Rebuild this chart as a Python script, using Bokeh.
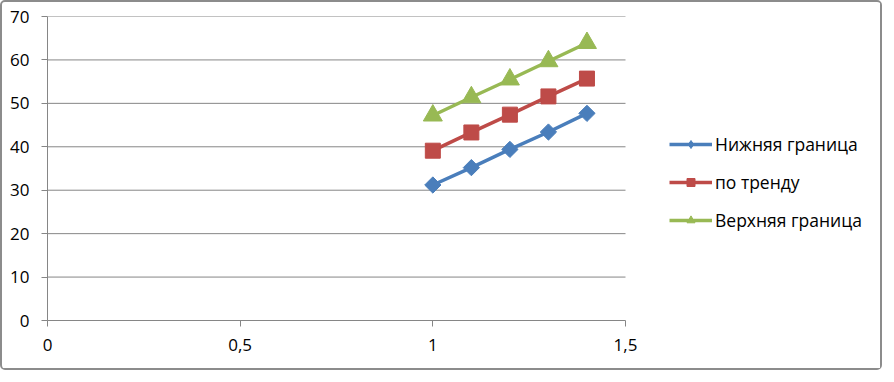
import numpy as np
from bokeh.plotting import figure
from bokeh.models import Range1d, FixedTicker, Legend, LegendItem
from bokeh.embed import file_html
from bokeh.resources import INLINE

x_vals = [1.0, 1.1, 1.2, 1.3, 1.4]
lower = [31.2, 35.2, 39.4, 43.4, 47.7]
trend = [39.1, 43.3, 47.4, 51.6, 55.7]
upper = [47.2, 51.4, 55.5, 59.7, 63.9]
names = ["Нижняя граница", "по тренду", "Верхняя граница"]
x_ticks = [0, 0.5, 1, 1.5]
x_tick_labels = ["0", "0,5", "1", "1,5"]
y_ticks = [0, 10, 20, 30, 40, 50, 60, 70]

FONT = "Open Sans"
GRID = "#868686"

# Frame extends under the legend area; axis and grid stop at 1.5.
AXIS_PX = 578
FRAME_W = 833
x_end = x_ticks[-1] * FRAME_W / AXIS_PX

p = figure(frame_width=FRAME_W, frame_height=304, output_backend="svg", toolbar_location=None,
           x_range=Range1d(0, x_end), y_range=Range1d(0, 70),
           min_border_left=45, min_border_right=0, min_border_top=14, min_border_bottom=48)
p.styles = {"border": "2px solid #8c8c8c", "border-radius": "5px"}
p.outline_line_color = None
p.xgrid.grid_line_color = None
p.ygrid.grid_line_color = None
p.segment(x0=x_ticks[0], x1=x_ticks[-1], y0=y_ticks[1:], y1=y_ticks[1:],
          line_color=GRID, line_width=1)

for ax in (p.xaxis[0], p.yaxis[0]):
    ax.axis_line_color = GRID
    ax.major_tick_line_color = GRID
    ax.minor_tick_line_color = None
    ax.major_tick_in = 0
    ax.major_tick_out = 6
    ax.major_label_text_font = FONT
    ax.major_label_text_font_size = "17px"
    ax.major_label_text_color = "#000000"

p.xaxis.ticker = FixedTicker(ticks=x_ticks)
p.xaxis.bounds = (x_ticks[0], x_ticks[-1])
p.xaxis.major_label_overrides = {t: l for t, l in zip(x_ticks, x_tick_labels)}
p.xaxis.major_label_standoff = 12
p.yaxis.ticker = FixedTicker(ticks=y_ticks)
p.yaxis.major_label_standoff = 12

colors = ["#4A7EBB", "#BE4B48", "#98B954"]
series = [lower, trend, upper]
items = []
for i, (ys, c, name) in enumerate(zip(series, colors, names)):
    r_line = p.line(x_vals, ys, line_color=c, line_width=3.5)
    if i == 0:
        p.scatter(x_vals, ys, marker="square", size=11.5, angle=np.pi / 4,
                  fill_color=c, line_color=c)
        # legend-only diamond (not drawn in the plot area)
        r_leg = p.scatter(x=[np.nan], y=[np.nan], marker="diamond", size=15,
                          fill_color=c, line_color=c)
    elif i == 1:
        r_leg = p.scatter(x_vals, ys, marker="square", size=15, fill_color=c, line_color=c)
    else:
        r_leg = p.scatter(x_vals, ys, marker="triangle", size=19, fill_color=c, line_color=c)
    items.append(LegendItem(label=name, renderers=[r_line, r_leg]))

legend = Legend(items=items, location=(622, 88), orientation="vertical",
                glyph_width=43, glyph_height=20, label_height=20, spacing=14,
                label_standoff=3, padding=0, margin=0,
                border_line_color=None, background_fill_alpha=0,
                label_text_font=FONT, label_text_font_size="17.5px",
                label_text_color="#000000")
p.add_layout(legend, "center")

open("out.html", "w").write(file_html(p, INLINE))
